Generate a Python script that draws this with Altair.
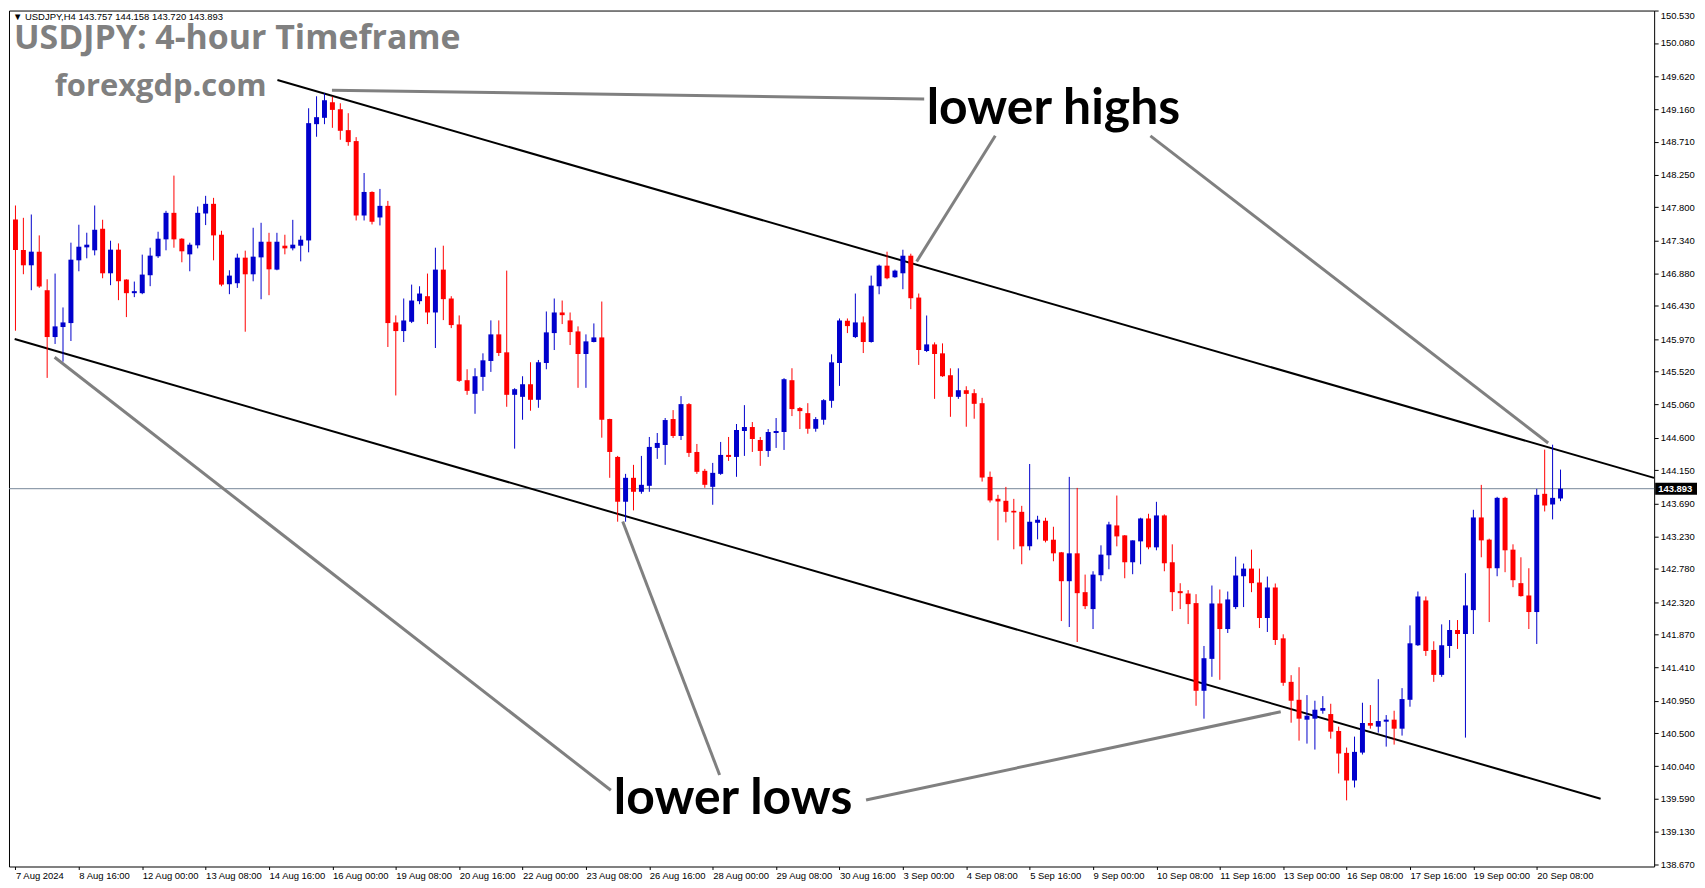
import altair as alt
import pandas as pd

# ---------------- data ----------------
opens = [147.630,147.206,146.994,147.183,146.648,145.998,146.137,146.192,147.063,147.243,
         147.202,147.501,146.883,147.211,146.796,146.607,146.607,146.856,147.119,147.354,
         147.722,147.363,147.146,147.271,147.713,147.847,147.418,146.731,146.745,147.100,
         146.869,147.104,147.321,146.934,147.266,147.229,147.266,147.339,148.953,149.041,
         149.257,149.160,148.870,148.718,147.685,148.012,147.658,147.819,146.201,146.081,
         146.210,146.496,146.565,146.339,146.934,146.533,146.173,145.399,145.210,145.445,
         145.666,146.035,145.786,145.196,145.168,145.343,145.127,145.638,146.053,146.339,
         146.229,146.076,145.763,145.929,145.993,144.860,144.334,143.712,144.044,143.850,
         143.933,144.459,144.500,144.860,144.625,145.067,144.403,144.141,143.919,144.099,
         144.362,144.334,144.694,144.749,144.569,144.417,144.666,144.680,145.399,145.012,
         144.942,144.725,144.850,145.113,145.638,146.224,145.998,146.201,145.929,146.703,
         146.989,146.828,146.883,147.127,146.546,145.804,145.896,145.772,145.468,145.168,
         145.260,145.219,145.080,144.057,143.753,143.725,143.586,143.572,143.093,143.420,
         143.448,143.185,143.010,142.609,142.996,142.457,142.222,142.692,142.969,143.383,
         143.245,142.872,143.162,143.480,143.079,143.522,142.872,142.471,142.438,142.305,
         141.088,141.531,142.300,141.945,142.250,142.678,142.784,142.591,142.098,142.522,
         141.816,141.212,140.963,140.687,140.701,140.811,140.765,140.530,140.226,139.843,
         140.230,140.641,140.590,140.659,140.687,140.562,140.963,141.720,142.342,141.655,
         141.309,141.710,141.932,141.876,142.208,143.494,143.186,142.789,143.766,143.047,
         142.582,142.411,142.181,143.822,143.674,143.757]
highs = [147.824,147.653,147.699,147.409,146.800,146.879,146.409,147.308,147.557,147.446,
         147.824,147.626,147.335,147.298,146.800,146.768,147.142,147.238,147.460,147.750,
         148.239,147.370,147.308,147.810,147.958,147.930,147.473,146.925,147.155,147.197,
         147.515,147.584,147.445,147.445,147.418,147.625,147.404,149.174,149.340,149.382,
         149.336,149.243,149.105,148.773,148.275,148.020,148.054,147.888,146.298,146.533,
         146.726,146.703,146.879,147.238,147.266,146.565,146.298,145.551,145.565,145.772,
         146.229,146.229,146.920,145.288,145.454,145.648,145.680,146.353,146.533,146.505,
         146.339,146.146,146.035,146.187,146.491,144.864,144.348,144.099,144.224,144.348,
         144.611,144.666,144.874,144.984,145.178,145.081,144.514,144.168,144.251,144.542,
         144.611,144.791,145.053,144.818,144.611,144.721,144.874,145.427,145.565,145.026,
         145.080,144.887,145.136,145.758,146.256,146.256,146.602,146.284,146.851,147.003,
         147.183,146.934,147.210,147.155,146.602,146.297,145.924,145.910,145.564,145.564,
         145.315,145.274,145.154,144.131,143.808,143.918,143.752,143.655,144.236,143.517,
         143.490,143.365,143.015,144.057,143.904,142.701,142.747,143.107,143.434,143.798,
         143.250,143.176,143.490,143.545,143.711,143.536,143.121,142.581,142.485,142.429,
         141.710,142.549,142.494,142.466,142.950,142.854,143.047,142.784,142.674,142.577,
         141.872,141.305,141.415,141.028,140.950,141.014,140.908,140.590,140.300,140.452,
         140.922,140.890,141.249,140.751,140.811,141.125,141.996,142.466,142.397,141.775,
         142.010,142.070,142.070,142.720,143.600,143.946,143.199,143.780,143.780,143.121,
         142.941,142.789,143.891,144.435,144.504,144.158]
lows = [146.086,146.870,146.648,146.681,145.431,145.902,145.657,145.943,146.911,147.091,
        147.132,146.814,146.718,146.510,146.275,146.552,146.593,146.704,147.096,147.202,
        147.238,147.036,146.911,147.229,147.552,147.063,146.703,146.593,146.680,146.072,
        146.772,146.523,146.579,146.925,147.146,147.201,147.049,147.174,148.778,148.953,
        148.902,148.736,148.653,147.616,147.616,147.561,147.547,145.860,145.187,145.929,
        146.192,146.454,146.178,145.846,146.233,146.122,145.376,145.196,144.933,145.251,
        145.514,145.735,145.030,144.449,144.850,144.975,145.016,145.551,145.818,146.178,
        145.887,145.293,145.293,145.924,144.601,144.044,143.435,143.435,143.592,143.823,
        143.850,144.307,144.224,144.597,144.569,144.334,144.099,143.906,143.670,144.085,
        144.279,144.058,144.348,144.403,144.210,144.334,144.459,144.431,144.901,144.721,
        144.656,144.684,144.781,145.016,145.320,146.053,145.984,145.776,145.920,146.592,
        146.800,146.820,146.662,146.385,145.611,145.790,145.140,145.445,144.891,145.140,
        144.753,144.864,143.992,143.702,143.176,143.425,143.052,142.844,143.038,143.190,
        143.148,142.886,142.056,141.973,141.765,142.222,141.945,142.609,142.775,143.093,
        142.650,142.706,142.844,143.052,143.038,142.747,142.194,142.222,142.014,140.880,
        140.701,141.282,141.240,141.890,142.222,142.250,142.457,141.959,141.904,141.724,
        141.157,140.645,140.396,140.355,140.272,140.770,140.424,139.940,139.567,139.746,
        140.203,140.562,140.507,140.313,140.341,140.466,140.867,141.710,141.572,141.212,
        141.282,141.544,141.669,140.438,141.876,142.941,142.042,142.678,142.734,142.526,
        142.395,141.945,141.738,143.577,143.467,143.720]
closes = [147.206,146.994,147.183,146.699,145.998,146.146,146.201,147.072,147.252,147.280,
          147.487,146.883,147.211,146.773,146.607,146.635,146.865,147.128,147.363,147.722,
          147.354,147.188,147.280,147.722,147.847,147.409,146.726,146.851,147.100,146.869,
          147.114,147.321,146.938,147.321,147.229,147.280,147.349,148.967,149.050,149.285,
          149.151,148.861,148.704,147.685,148.012,147.598,147.819,146.192,146.081,146.228,
          146.505,146.602,146.339,146.934,146.524,146.164,145.390,145.251,145.454,145.675,
          146.035,145.777,145.196,145.274,145.343,145.127,145.648,146.063,146.339,146.302,
          146.067,145.763,145.938,145.993,144.850,144.403,143.712,144.044,143.850,143.947,
          144.473,144.528,144.846,144.625,145.067,144.390,144.127,143.947,144.113,144.362,
          144.334,144.708,144.749,144.583,144.417,144.680,144.694,145.413,144.998,144.970,
          144.725,144.859,145.122,145.647,146.228,146.150,146.201,145.929,146.712,146.989,
          146.814,146.920,147.127,146.537,145.818,145.896,145.763,145.454,145.168,145.260,
          145.209,145.071,144.048,143.730,143.716,143.572,143.563,143.093,143.434,143.462,
          143.171,142.996,142.609,142.996,142.443,142.263,142.701,142.978,143.397,143.231,
          142.872,143.176,143.480,143.079,143.522,142.858,142.457,142.443,142.291,141.088,
          141.540,142.300,141.945,142.356,142.688,142.784,142.582,142.098,142.522,141.793,
          141.199,140.950,140.701,140.742,140.825,140.848,140.521,140.217,139.843,140.240,
          140.641,140.604,140.668,140.687,140.562,140.973,141.747,142.397,141.641,141.309,
          141.720,141.932,141.876,142.273,143.494,143.176,142.789,143.766,143.038,142.623,
          142.402,142.181,143.808,143.660,143.766,143.893]

date_labels = ["7 Aug 2024", "8 Aug 16:00", "12 Aug 00:00", "13 Aug 08:00", "14 Aug 16:00",
               "16 Aug 00:00", "19 Aug 08:00", "20 Aug 16:00", "22 Aug 00:00", "23 Aug 08:00",
               "26 Aug 16:00", "28 Aug 00:00", "29 Aug 08:00", "30 Aug 16:00", "3 Sep 00:00",
               "4 Sep 08:00", "5 Sep 16:00", "9 Sep 00:00", "10 Sep 08:00", "11 Sep 16:00",
               "13 Sep 00:00", "16 Sep 08:00", "17 Sep 16:00", "19 Sep 00:00", "20 Sep 08:00"]
bars_per_label = 8

price_ticks = [150.530, 150.080, 149.620, 149.160, 148.710, 148.250, 147.800, 147.340,
               146.880, 146.430, 145.970, 145.520, 145.060, 144.600, 144.150, 143.690,
               143.230, 142.780, 142.320, 141.870, 141.410, 140.950, 140.500, 140.040,
               139.590, 139.130, 138.670]

last_price = 143.893
header_text = "▼ USDJPY,H4  143.757 144.158 143.720 143.893"

# channel lines (bar index, price)
channel_id = ["upper", "upper", "lower", "lower"]
channel_idx = [33.06, 206.8, -0.1, 200.06]
channel_price = [149.566, 144.043, 145.970, 139.589]

# grey pointer lines (bar index, price)
pointer_id = ["g1", "g1", "g2", "g2", "g3", "g3", "g4", "g4", "g5", "g5", "g6", "g6"]
pointer_idx = [39.94, 114.69, 113.74, 123.66, 193.44, 143.24,
               4.94, 75.14, 76.64, 88.87, 159.69, 107.35]
pointer_price = [149.424, 149.303, 147.047, 148.791, 144.527, 148.791,
                 145.717, 139.707, 143.437, 139.919, 140.797, 139.572]

# ---------------- layout ----------------
W = 1651
H = 859
x_dom = [-0.1875, -0.1875 + W / 8.0]
y_dom = [138.649, 150.530]

candles = pd.DataFrame({
    "idx": list(range(len(opens))),
    "open": opens, "high": highs, "low": lows, "close": closes,
})
candles["dir"] = ["up" if c >= o else "down" for o, c in zip(opens, closes)]

xs = alt.Scale(domain=x_dom, nice=False, zero=False)
ys = alt.Scale(domain=y_dom, nice=False, zero=False)
col = alt.Color("dir:N", scale=alt.Scale(domain=["up", "down"], range=["#0000cc", "#ff0000"]), legend=None)

label_js = "[" + ",".join("'" + s + "'" for s in date_labels) + "][round(datum.value/%d)]" % bars_per_label
x_axis = alt.Axis(values=[i * bars_per_label for i in range(len(date_labels))], labelExpr=label_js,
                  labelAlign="left", labelFontSize=9.5, labelFont="Liberation Sans", labelColor="black",
                  tickSize=3, tickColor="black", labelPadding=1, domain=False, grid=False,
                  labelOverlap=False, labelFlush=False, title=None)
y_axis = alt.Axis(values=price_ticks, format=".3f", orient="right", labelFontSize=9.5,
                  labelFont="Liberation Sans", labelColor="black", tickSize=4, tickColor="black",
                  labelPadding=2, domain=False, grid=False, labelFlush=True, labelOverlap=False,
                  title=None)

base = alt.Chart(candles)

wicks = base.mark_rule(strokeWidth=1).encode(
    x=alt.X("idx:Q", scale=xs, axis=x_axis),
    y=alt.Y("low:Q", scale=ys, axis=y_axis),
    y2="high:Q",
    color=col,
)
bodies = base.mark_bar(size=5).encode(
    x=alt.X("idx:Q", scale=xs, axis=x_axis),
    y=alt.Y("open:Q", scale=ys, axis=y_axis),
    y2="close:Q",
    color=col,
)

price_df = pd.DataFrame({"p": [last_price]})
price_line = alt.Chart(price_df).mark_rule(color="#778899", strokeWidth=1).encode(
    y=alt.Y("p:Q", scale=ys, axis=y_axis))
price_box = alt.Chart(price_df).mark_point(
    shape="M-1,-0.2857L1,-0.2857L1,0.2857L-1,0.2857Z", filled=True, opacity=1,
    color="black", size=1764).encode(
    x=alt.value(W + 22), y=alt.Y("p:Q", scale=ys, axis=y_axis))
price_txt = alt.Chart(price_df).mark_text(
    color="white", fontSize=9.5, font="Liberation Sans", fontWeight="bold", align="left",
    baseline="middle").encode(
    x=alt.value(W + 4), y=alt.Y("p:Q", scale=ys, axis=y_axis), text=alt.Text("p:Q", format=".3f"))

chan_df = pd.DataFrame({"id": channel_id, "idx": channel_idx, "price": channel_price})
channels = alt.Chart(chan_df).mark_line(color="black", strokeWidth=2, clip=True).encode(
    x=alt.X("idx:Q", scale=xs, axis=x_axis), y=alt.Y("price:Q", scale=ys, axis=y_axis), detail="id:N")

ptr_df = pd.DataFrame({"id": pointer_id, "idx": pointer_idx, "price": pointer_price})
pointers = alt.Chart(ptr_df).mark_line(color="#808080", strokeWidth=3, clip=True).encode(
    x=alt.X("idx:Q", scale=xs, axis=x_axis), y=alt.Y("price:Q", scale=ys, axis=y_axis), detail="id:N")

def label(text, x, y, size, color, weight="bold", font="Lato", baseline="alphabetic"):
    return alt.Chart(pd.DataFrame({"t": [text]})).mark_text(
        align="left", baseline=baseline, fontSize=size, font=font, fontWeight=weight, color=color
    ).encode(x=alt.value(x), y=alt.value(y), text="t:N")

header = label(header_text, 4, 1, 9.5, "black", weight="normal", font="Liberation Sans", baseline="top")
title = label("USDJPY: 4-hour Timeframe", 5, 39, 34, "#808080", font="Open Sans")
site = label("forexgdp.com", 46, 86, 31, "#808080", font="Open Sans")
hi_txt = label("lower highs", 921, 114, 50, "black")
lo_txt = label("lower lows", 607, 806, 50, "black")

chart = alt.layer(
    price_line, channels, pointers, wicks, bodies, price_box, price_txt,
    header, title, site, hi_txt, lo_txt
).properties(width=W, height=H, padding=0, background="white").configure_view(
    stroke="black", strokeWidth=1
).configure_axis(labelOverlap=False)

chart.save("out.html", embed_options={"renderer": "svg", "actions": False})
